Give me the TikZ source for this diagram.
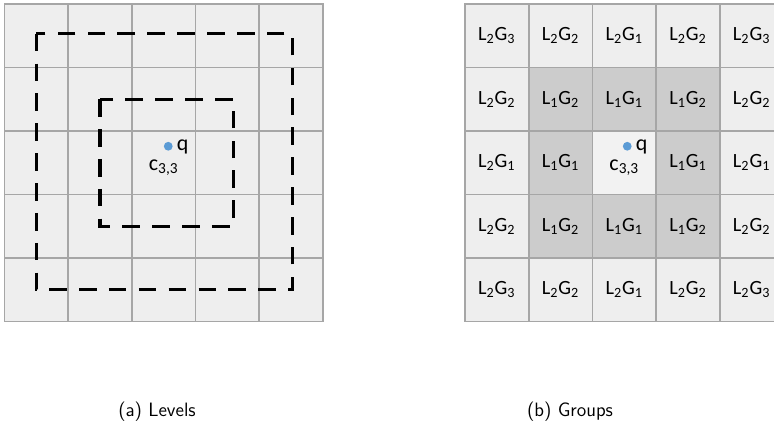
\documentclass[tikz,border=0pt]{standalone}
\usepackage{fontspec}
\setmainfont{Carlito}
\usetikzlibrary{positioning}
\definecolor{Grid}{HTML}{A6A6A6}
\definecolor{Cell}{HTML}{EEEEEE}
\definecolor{Ring}{HTML}{CCCCCC}
\definecolor{Centre}{HTML}{F2F2F2}
\definecolor{Dot}{HTML}{5B9BD5}

\begin{document}
\begin{tikzpicture}[x=0.02cm,y=-0.02cm,
  cell/.style={draw=Grid,fill=Cell,line width=1pt,minimum size=1.274cm,
    inner sep=0pt,font=\fontsize{11.5}{13}\selectfont},
  ring/.style={cell,fill=Ring},
  centre/.style={cell,fill=Centre},
  level/.style={dash pattern=on 10pt off 7pt,line width=1.9pt},
  qdot/.style={circle,fill=Dot,inner sep=0pt,minimum size=5pt},
  lbl/.style={inner sep=0pt,font=\fontsize{12.5}{14}\selectfont},
  caption/.style={font=\sffamily\fontsize{11}{13}\selectfont}]
  \useasboundingbox (0,0) rectangle (774,429);

  % (a) levels
  \foreach \r in {1,...,5}
    \foreach \c in {1,...,5}
      \node[cell] (a\r\c) at ({4.5+63.7*(\c-0.5)},{4+63.5*(\r-0.5)}) {};
  \draw[level] ([shift={(0,-2)}]a11.center) rectangle ([xshift=0.03cm]a55.center);
  \draw[level] (a22.center) rectangle ([xshift=0.12cm]a44.center);
  \node[qdot] (qa) at ([shift={(4.5,-16.5)}]a33.center) {};
  \node[lbl,anchor=mid west] (qla) at ([xshift=2pt]qa.east) {q};
  \node[lbl] (ca) at ([yshift=-3pt]a33.center) {c\textsubscript{3,3}};

  % (b) groups
  \foreach \r in {1,...,5}
    \foreach \c in {1,...,5} {
      \pgfmathtruncatemacro\lev{max(abs(\r-3),abs(\c-3))}
      \pgfmathtruncatemacro\grp{min(abs(\r-3),abs(\c-3))+1}
      \coordinate (p) at ({465+63.7*(\c-0.5)},{4+63.5*(\r-0.5)});
      \ifcase\lev
        \node[centre] (b\r\c) at (p) {};
      \or
        \node[ring] (b\r\c) at (p) {L\textsubscript{1}G\textsubscript{\grp}};
      \else
        \node[cell] (b\r\c) at (p) {L\textsubscript{2}G\textsubscript{\grp}};
      \fi
    }
  \node[qdot] (qb) at ([shift={(3,-16.5)}]b33.center) {};
  \node[lbl,anchor=mid west] (qlb) at ([xshift=2pt]qb.east) {q};
  \node[lbl] (cb) at ([yshift=-3pt]b33.center) {c\textsubscript{3,3}};

  \node[caption] (capa) at (157,412) {(a) Levels};
  \node[caption] (capb) at (570,412) {(b) Groups};
\end{tikzpicture}
\end{document}
